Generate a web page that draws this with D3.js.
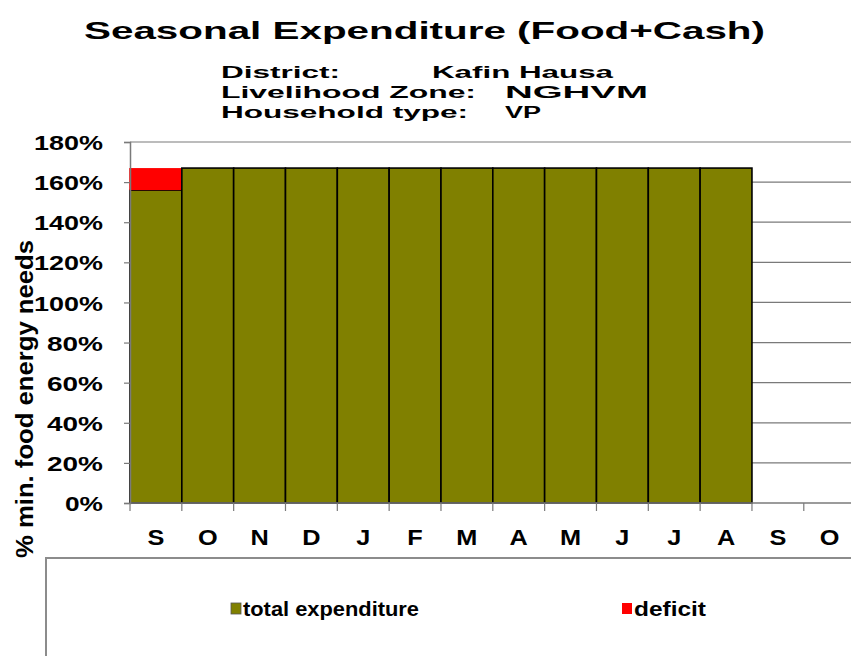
<!DOCTYPE html>
<html lang="en">
<head>
<meta charset="UTF-8">
<script src="https://d3js.org/d3.v7.min.js"></script>
<style>
  body { margin: 0; background: #fff; }
  text { font-family: "Liberation Sans", Arial, sans-serif; font-weight: bold; fill: #000; }
</style>
</head>
<body>
<div id="chart"></div>
<script>
const width = 851;
const height = 656;

// data
const months = ["S", "O", "N", "D", "J", "F", "M", "A", "M", "J", "J", "A", "S", "O"];
const totalExpenditure = [156, 167, 167, 167, 167, 167, 167, 167, 167, 167, 167, 167];
const deficit = [11, 0, 0, 0, 0, 0, 0, 0, 0, 0, 0, 0];
const yTicks = [0, 20, 40, 60, 80, 100, 120, 140, 160, 180];
const infoLabels = ["District:", "Livelihood Zone:", "Household type:"];
const infoValues = ["Kafin Hausa", "NGHVM", "VP"];
const legendItems = ["total expenditure", "deficit"];

const plot = { left: 130, top: 142, bottom: 503 };
const step = 51.83;

const svg = d3.select("#chart")
  .append("svg")
  .attr("width", width)
  .attr("height", height);

const x = d3.scaleBand()
  .domain(d3.range(months.length))
  .range([plot.left, plot.left + step * months.length])
  .padding(0);

const y = d3.scaleLinear()
  .domain([0, 180])
  .range([plot.bottom, plot.top]);

// title + info block (the source image is stretched sideways)
svg.append("text")
  .attr("x", 84).attr("y", 39)
  .attr("font-size", 24)
  .attr("textLength", 681).attr("lengthAdjust", "spacingAndGlyphs")
  .text("Seasonal Expenditure (Food+Cash)");

const infoY = [78, 98, 118];
const infoLabelW = [119, 255, 247];
const infoValueX = [432, 505, 505];
const infoValueW = [181, 143, 36];
infoLabels.forEach((t, i) => {
  svg.append("text")
    .attr("x", 221).attr("y", infoY[i])
    .attr("font-size", 16)
    .attr("textLength", infoLabelW[i]).attr("lengthAdjust", "spacingAndGlyphs")
    .text(t);
  svg.append("text")
    .attr("x", infoValueX[i]).attr("y", infoY[i])
    .attr("font-size", 16)
    .attr("textLength", infoValueW[i]).attr("lengthAdjust", "spacingAndGlyphs")
    .text(infoValues[i]);
});

// gridlines
svg.append("g")
  .selectAll("line")
  .data(yTicks.slice(1))
  .enter()
  .append("line")
  .attr("x1", plot.left).attr("x2", width)
  .attr("y1", d => y(d)).attr("y2", d => y(d))
  .attr("stroke", "#7a7a7a")
  .attr("stroke-width", 1.2);

// bars
svg.append("g")
  .selectAll("rect")
  .data(totalExpenditure)
  .enter()
  .append("rect")
  .attr("x", (d, i) => x(i))
  .attr("y", d => y(d))
  .attr("width", x.bandwidth())
  .attr("height", d => y(0) - y(d))
  .attr("fill", "#808000")
  .attr("stroke", "#000")
  .attr("stroke-width", 1.6);

svg.append("g")
  .selectAll("rect")
  .data(deficit)
  .enter()
  .filter(d => d > 0)
  .append("rect")
  .attr("x", (d, i) => x(i) - 0.8)
  .attr("y", (d, i) => y(totalExpenditure[i] + d))
  .attr("width", x.bandwidth())
  .attr("height", (d, i) => y(totalExpenditure[i]) - y(totalExpenditure[i] + d))
  .attr("fill", "#ff0000");

// y axis
const yAxis = svg.append("g")
  .attr("transform", `translate(${plot.left},0)`)
  .call(d3.axisLeft(y).tickValues(yTicks).tickSize(6).tickPadding(21).tickFormat(d => d + "%"));
yAxis.select(".domain").attr("stroke", "#7a7a7a").attr("stroke-width", 1.5);
yAxis.selectAll(".tick line").attr("stroke", "#7a7a7a").attr("stroke-width", 1.2);
yAxis.selectAll(".tick text")
  .attr("font-size", 21)
  .attr("font-family", null)
  .attr("dy", "0.36em")
  .attr("textLength", d => d >= 100 ? 69 : (d > 0 ? 56 : 38))
  .attr("lengthAdjust", "spacingAndGlyphs");

// x axis (ticks on band edges)
svg.append("line")
  .attr("x1", plot.left).attr("x2", width)
  .attr("y1", y(0)).attr("y2", y(0))
  .attr("stroke", "#7a7a7a").attr("stroke-width", 1.5);

svg.append("g")
  .selectAll("line")
  .data(d3.range(months.length))
  .enter()
  .append("line")
  .attr("x1", d => x(d)).attr("x2", d => x(d))
  .attr("y1", y(0)).attr("y2", y(0) + 8)
  .attr("stroke", "#7a7a7a").attr("stroke-width", 1.2);

svg.append("g")
  .selectAll("text")
  .data(months)
  .enter()
  .append("text")
  .attr("transform", (d, i) => `translate(${x(i) + x.bandwidth() / 2},545) scale(1.15,1)`)
  .attr("text-anchor", "middle")
  .attr("font-size", 22)
  .text(d => d);

// y axis title
svg.append("text")
  .attr("transform", "translate(33,558) rotate(-90)")
  .attr("font-size", 23)
  .attr("textLength", 318).attr("lengthAdjust", "spacingAndGlyphs")
  .text("% min. food energy needs");

// legend box
svg.append("path")
  .attr("d", `M46,${height} V558 H${width}`)
  .attr("fill", "none")
  .attr("stroke", "#8c8c8c")
  .attr("stroke-width", 2);

const legendColors = ["#808000", "#ff0000"];
const legendX = [231, 622];
const legendW = [176, 72];
legendItems.forEach((t, i) => {
  svg.append("rect")
    .attr("x", legendX[i]).attr("y", 603)
    .attr("width", 10).attr("height", 11)
    .attr("fill", legendColors[i])
    .attr("stroke", i === 0 ? "#555" : "none")
    .attr("stroke-width", 0.8);
  svg.append("text")
    .attr("x", legendX[i] + 12).attr("y", 616)
    .attr("font-size", 20)
    .attr("textLength", legendW[i]).attr("lengthAdjust", "spacingAndGlyphs")
    .text(t);
});
</script>
</body>
</html>
